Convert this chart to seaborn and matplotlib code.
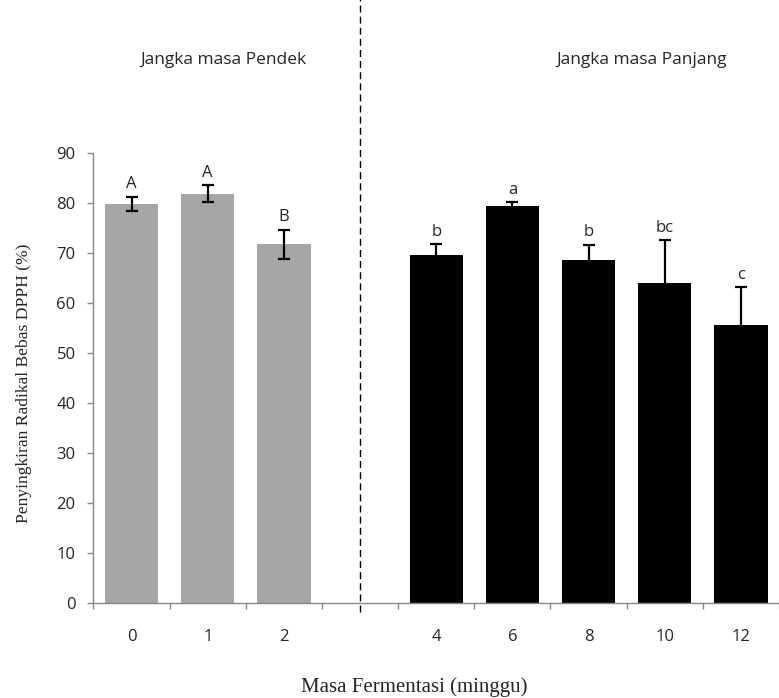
import pandas as pd
import seaborn as sns
import matplotlib.pyplot as plt

# data
weeks = ["0", "1", "2", "", "4", "6", "8", "10", "12"]
bar_weeks = ["0", "1", "2", "4", "6", "8", "10", "12"]
dpph = [79.9, 81.9, 71.8, 69.7, 79.4, 68.7, 64.1, 55.7]
err = [1.4, 1.7, 2.9, 2.1, 0.8, 3.0, 8.5, 7.5]
letters = ["A", "A", "B", "b", "a", "b", "bc", "c"]
bar_colors = ["#a6a6a6"] * 3 + ["#000000"] * 5

df = pd.DataFrame({"week": bar_weeks, "dpph": dpph, "err": err})

sns.set_style("white")
plt.rcParams["font.family"] = ["Open Sans", "DejaVu Sans"]

fig = plt.figure(figsize=(7.79, 6.98), dpi=100)
ax = fig.add_axes([0.12, 0.1361, 0.88, 0.6447])

sns.barplot(data=df, x="week", y="dpph", order=weeks, hue="week",
            palette=dict(zip(bar_weeks, bar_colors)), legend=False,
            width=0.70, linewidth=0, ax=ax)

pos = [weeks.index(w) for w in bar_weeks]
ax.errorbar(pos, dpph, yerr=err, fmt="none", ecolor="black",
            elinewidth=1.6, capsize=4.2, capthick=1.6)

for p, v, e, t in zip(pos, dpph, err, letters):
    ax.text(p, v + e + 0.9, t, ha="center", va="bottom", fontsize=12)

ax.set_ylim(0, 90)
ax.set_yticks(range(0, 91, 10))
ax.set_xlim(-0.5, -0.5 + 685.5 / 77)

# slot boundary ticks on x, labels centred without marks
ax.set_xticks([i - 0.5 for i in range(10)], minor=True)
ax.tick_params(axis="x", which="minor", direction="out", length=4.3,
               color="#888888", width=1, bottom=True)
ax.tick_params(axis="x", which="major", length=0, pad=18.7, labelsize=12)
ax.tick_params(axis="y", direction="out", length=4.3, color="#888888",
               width=1, left=True, labelsize=12, pad=8.5)

for s in ["top", "right"]:
    ax.spines[s].set_visible(False)
for s in ["left", "bottom"]:
    ax.spines[s].set_color("#888888")
    ax.spines[s].set_linewidth(1)

ax.axvline(3, ymin=-0.02, ymax=1.35, clip_on=False, color="black",
           linestyle=(0, (5, 3)), linewidth=1)

ax.text(1.21, 1.206, "Jangka masa Pendek", transform=ax.get_xaxis_transform(),
        ha="center", va="center", fontsize=12.5)
ax.text(6.69, 1.206, "Jangka masa Panjang", transform=ax.get_xaxis_transform(),
        ha="center", va="center", fontsize=12.5)

ax.set_xlabel("Masa Fermentasi (minggu)", family="Liberation Serif",
              fontsize=15)
ax.xaxis.set_label_coords(0.468, -0.166)
ax.set_ylabel("Penyingkiran Radikal Bebas DPPH (%)", family="Liberation Serif",
              fontsize=12.6)
ax.yaxis.set_label_coords(-0.09, 0.489)

fig.savefig("out.png", dpi=100)
